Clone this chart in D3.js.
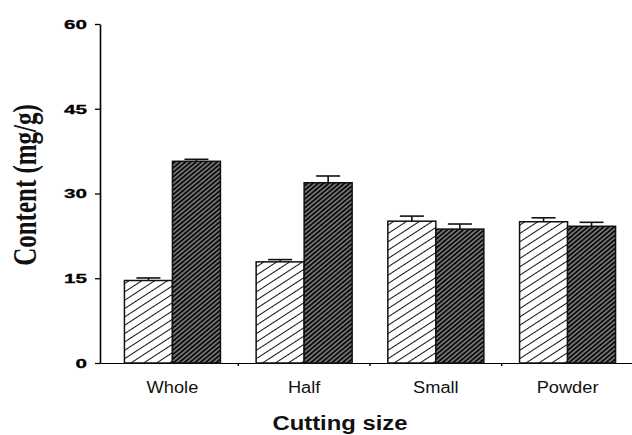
<!DOCTYPE html>
<html>
<head>
<meta charset="utf-8">
<script src="https://cdn.jsdelivr.net/npm/d3@7"></script>
<style>
  body { margin: 0; background: #fff; }
  svg { display: block; }
</style>
</head>
<body>
<div id="chart"></div>
<script>
// data
let categories = ["Whole", "Half", "Small", "Powder"];
let seriesNames = ["light", "dark"];
let lightValues = [14.6, 17.9, 25.1, 25.0];
let lightErrors = [0.45, 0.4, 0.9, 0.7];
let darkValues = [35.7, 31.9, 23.7, 24.2];
let darkErrors = [0.35, 1.2, 0.9, 0.7];
let yTicks = [0, 15, 30, 45, 60];

function drawChart() {

    let plotWidth = 632;
    let plotHeight = 435;

    let margin = { top: 24, right: -8, bottom: 72, left: 100 };

    let width = plotWidth - margin.left - margin.right;
    let height = plotHeight - margin.top - margin.bottom;

    let svg = d3.select("#chart")
        .append("svg")
        .attr("width", plotWidth)
        .attr("height", plotHeight);

    // hatch patterns
    let defs = svg.append("defs");
    let light = defs.append("pattern")
        .attr("id", "hatchLight")
        .attr("patternUnits", "userSpaceOnUse")
        .attr("width", 10).attr("height", 7)
        .attr("patternTransform", "rotate(-33)");
    light.append("rect").attr("width", 10).attr("height", 7).attr("fill", "#fff");
    light.append("line").attr("x1", 0).attr("x2", 10).attr("y1", 3.5).attr("y2", 3.5)
        .attr("stroke", "#111").attr("stroke-width", 1);

    let dark = defs.append("pattern")
        .attr("id", "hatchDark")
        .attr("patternUnits", "userSpaceOnUse")
        .attr("width", 10).attr("height", 3.4)
        .attr("patternTransform", "rotate(-40)");
    dark.append("rect").attr("width", 10).attr("height", 3.4).attr("fill", "#0a0a0a");
    dark.append("line").attr("x1", 0).attr("x2", 10).attr("y1", 1.7).attr("y2", 1.7)
        .attr("stroke", "#fff").attr("stroke-width", 0.8);

    let graph = svg.append("g")
        .attr("transform", `translate(${margin.left}, ${margin.top})`);

    // scales
    let x0 = d3.scaleBand()
        .domain(categories)
        .range([0, width])
        .paddingInner(0)
        .paddingOuter(0.05);

    let x1 = d3.scaleBand()
        .domain(seriesNames)
        .range([0, x0.bandwidth()])
        .paddingInner(0)
        .paddingOuter(0.372);

    let yScale = d3.scaleLinear()
        .domain([0, 60])
        .range([height, 0]);

    let rows = categories.map((c, i) => ({
        cat: c,
        bars: [
            { key: "light", value: lightValues[i], err: lightErrors[i] },
            { key: "dark", value: darkValues[i], err: darkErrors[i] }
        ]
    }));

    // x axis
    let xAxis = graph.append("g")
        .attr("transform", `translate(0, ${height})`)
        .call(d3.axisBottom(x0).tickSize(0).tickPadding(18.5));
    xAxis.select(".domain").attr("stroke-width", 1.2);
    xAxis.selectAll("text")
        .attr("font-family", "Liberation Sans, Arial, sans-serif")
        .attr("font-size", "16px")
        .attr("fill", "#111");

    // small ticks between categories
    graph.append("g")
        .selectAll("line")
        .data(categories.slice(1))
        .enter()
        .append("line")
        .attr("x1", d => x0(d))
        .attr("x2", d => x0(d))
        .attr("y1", height)
        .attr("y2", height + 3)
        .attr("stroke", "#111")
        .attr("stroke-width", 1.5);

    // y axis
    let yAxis = graph.append("g")
        .call(d3.axisLeft(yScale).tickValues(yTicks).tickSize(5).tickSizeOuter(0).tickPadding(8));
    yAxis.select(".domain").attr("stroke-width", 1.6);
    yAxis.selectAll(".tick line").attr("stroke-width", 1.3);
    yAxis.selectAll("text")
        .attr("font-family", "Liberation Sans, Arial, sans-serif")
        .attr("font-weight", "bold")
        .attr("font-size", "13.5px")
        .attr("fill", "#000")
        .attr("stroke", "#000")
        .attr("stroke-width", 0.3)
        .attr("textLength", d => String(d).length * 11.5)
        .attr("lengthAdjust", "spacingAndGlyphs");

    // bars
    let groups = graph.selectAll(".group")
        .data(rows)
        .enter()
        .append("g")
        .attr("class", "group")
        .attr("transform", d => `translate(${x0(d.cat)}, 0)`);

    groups.selectAll("rect")
        .data(d => d.bars)
        .enter()
        .append("rect")
        .attr("x", d => x1(d.key))
        .attr("y", d => yScale(d.value))
        .attr("width", x1.bandwidth())
        .attr("height", d => height - yScale(d.value))
        .attr("fill", d => d.key == "light" ? "url(#hatchLight)" : "url(#hatchDark)")
        .attr("stroke", "#111")
        .attr("stroke-width", 1.5);

    // error bars, upward only
    let capW = x1.bandwidth() / 2;
    let errs = groups.selectAll(".err")
        .data(d => d.bars)
        .enter()
        .append("g")
        .attr("class", "err")
        .attr("stroke", "#111")
        .attr("stroke-width", 1.6);
    errs.append("line")
        .attr("x1", d => x1(d.key) + x1.bandwidth() / 2)
        .attr("x2", d => x1(d.key) + x1.bandwidth() / 2)
        .attr("y1", d => yScale(d.value))
        .attr("y2", d => yScale(d.value + d.err));
    errs.append("line")
        .attr("x1", d => x1(d.key) + x1.bandwidth() / 2 - capW / 2)
        .attr("x2", d => x1(d.key) + x1.bandwidth() / 2 + capW / 2)
        .attr("y1", d => yScale(d.value + d.err))
        .attr("y2", d => yScale(d.value + d.err));

    // stretch category labels a bit, the scan is wide
    xAxis.selectAll("text").each(function() {
        let len = this.getComputedTextLength();
        d3.select(this).attr("textLength", len * 1.14).attr("lengthAdjust", "spacingAndGlyphs");
    });

    // axis titles
    svg.append("text")
        .attr("x", 340)
        .attr("y", 430)
        .attr("text-anchor", "middle")
        .attr("font-family", "Liberation Sans, Arial, sans-serif")
        .attr("font-weight", "bold")
        .attr("font-size", "20px")
        .attr("fill", "#111")
        .attr("textLength", 135)
        .attr("lengthAdjust", "spacingAndGlyphs")
        .text("Cutting size");

    svg.append("text")
        .attr("transform", "translate(36, 185) scale(1.35, 1) rotate(-90)")
        .attr("text-anchor", "middle")
        .attr("font-family", "Liberation Serif, Times New Roman, serif")
        .attr("font-weight", "bold")
        .attr("font-size", "25px")
        .attr("fill", "#111")
        .text("Content (mg/g)");
}

drawChart();
</script>
</body>
</html>
